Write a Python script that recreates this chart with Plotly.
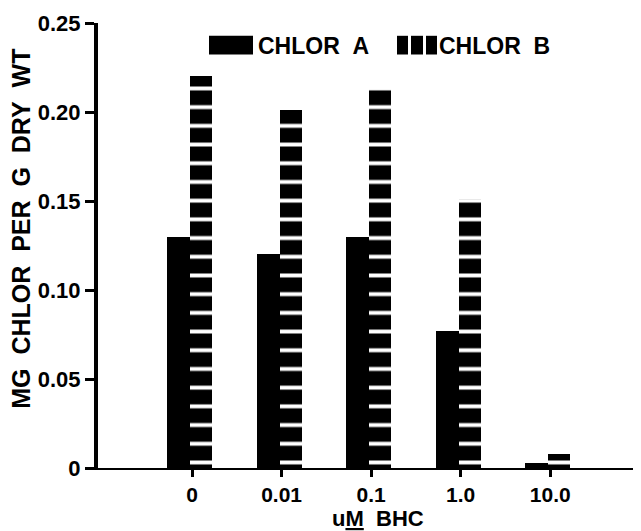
import plotly.graph_objects as go

categories = ["0", "0.01", "0.1", "1.0", "10.0"]
chlor_a = [0.130, 0.120, 0.130, 0.077, 0.003]
chlor_b = [0.220, 0.201, 0.213, 0.151, 0.008]
y_ticks = [0, 0.05, 0.10, 0.15, 0.20, 0.25]
y_tick_labels = ["0", "0.05", "0.10", "0.15", "0.20", "0.25"]

xpos = list(range(len(categories)))
FONT = "Liberation Sans, Arial, Helvetica, sans-serif"

# page body has an 8px margin; figure is sized to fit the window
OFF = 8
FIG_W, FIG_H = 641 - OFF, 531 - OFF
# plot area in screen pixels
L, R, T, B = 98, 638, 16, 468
W, H = R - L, B - T

def px(x):
    return (x - L) / W

def py(y):
    return (B - y) / H

fig = go.Figure()
fig.add_trace(go.Bar(
    x=xpos, y=chlor_a, name="CHLOR A",
    width=0.26, offset=-0.28,
    marker=dict(color="black", line=dict(width=0)),
    showlegend=False,
))
fig.add_trace(go.Bar(
    x=xpos, y=chlor_b, name="CHLOR B",
    width=0.245, offset=-0.02,
    marker=dict(color="black", line=dict(width=0),
                pattern=dict(shape="-", bgcolor="black", fgcolor="white",
                             fgopacity=1, size=18.7, solidity=0.21,
                             fillmode="overlay")),
    showlegend=False,
))

shapes = []
# legend swatch A
shapes.append(dict(type="rect", xref="paper", yref="paper",
                   x0=px(209), x1=px(253), y0=py(48), y1=py(29),
                   fillcolor="black", line=dict(width=0)))
# legend swatch B (vertical stripes)
for a, b in [(397, 408), (411, 423), (426, 437)]:
    shapes.append(dict(type="rect", xref="paper", yref="paper",
                       x0=px(a), x1=px(b), y0=py(48), y1=py(29),
                       fillcolor="black", line=dict(width=0)))
# small tick at right end of x axis
shapes.append(dict(type="line", xref="paper", yref="paper",
                   x0=1, x1=1, y0=py(473), y1=py(462),
                   line=dict(color="black", width=2)))

annotations = [
    dict(text="CHLOR\u00a0\u00a0A", xref="paper", yref="paper",
         x=px(256), y=py(39), xanchor="left", yanchor="middle", showarrow=False,
         font=dict(family=FONT, size=23, color="black", weight="bold")),
    dict(text="CHLOR\u00a0\u00a0B", xref="paper", yref="paper",
         x=px(437), y=py(39), xanchor="left", yanchor="middle", showarrow=False,
         font=dict(family=FONT, size=23, color="black", weight="bold")),
    dict(text="MG\u00a0\u00a0CHLOR\u00a0\u00a0PER\u00a0\u00a0G\u00a0\u00a0DRY\u00a0\u00a0WT",
         xref="paper", yref="paper", x=px(21), y=py(225),
         xanchor="center", yanchor="middle", textangle=-90, showarrow=False,
         font=dict(family=FONT, size=25, color="black", weight="bold")),
    dict(text="u<u>M</u>\u00a0\u00a0BHC", xref="paper", yref="paper",
         x=px(378), y=py(519), xanchor="center", yanchor="middle", showarrow=False,
         font=dict(family=FONT, size=22, color="black", weight="bold")),
]

fig.update_layout(
    width=FIG_W, height=FIG_H,
    margin=dict(l=L - OFF, r=FIG_W - (R - OFF), t=T - OFF, b=FIG_H - (B - OFF)),
    paper_bgcolor="white", plot_bgcolor="white",
    shapes=shapes, annotations=annotations,
    bargap=0, showlegend=False,
)
fig.update_xaxes(
    range=[-1.05, 4.98], tickmode="array", tickvals=xpos, ticktext=categories,
    showgrid=False, zeroline=False, showline=True, linecolor="black", linewidth=2,
    ticks="outside", ticklen=7, tickwidth=3, tickcolor="black",
    tickfont=dict(family=FONT, size=21, color="black", weight="bold"),
)
fig.update_yaxes(
    range=[0, 0.25], tickmode="array", tickvals=y_ticks, ticktext=y_tick_labels,
    showgrid=False, zeroline=False, showline=True, linecolor="black", linewidth=4,
    ticks="outside", ticklen=9, tickwidth=3, tickcolor="black",
    ticklabeloverflow="allow",
    tickfont=dict(family=FONT, size=22, color="black", weight="bold"),
)

fig.write_html("out.html")
